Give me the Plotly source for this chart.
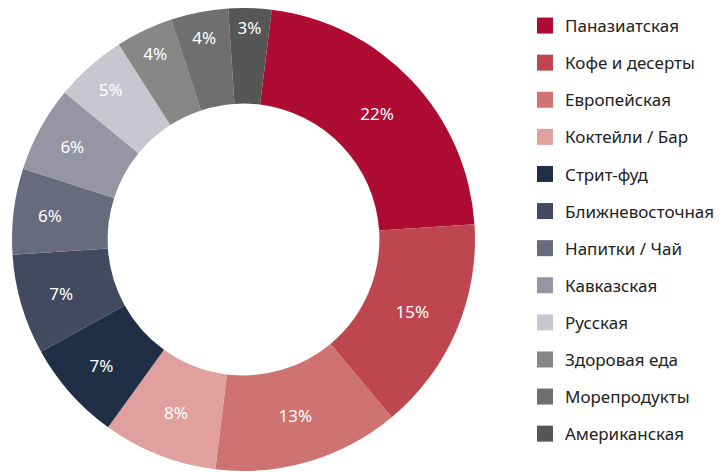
import plotly.graph_objects as go

categories = ["Паназиатская", "Кофе и десерты", "Европейская", "Коктейли / Бар",
              "Стрит-фуд", "Ближневосточная", "Напитки / Чай", "Кавказская",
              "Русская", "Здоровая еда", "Морепродукты", "Американская"]
values = [22, 15, 13, 8, 7, 7, 6, 6, 5, 4, 4, 3]
colors = ["#AE0C32", "#BE4650", "#CE7272", "#E0A09E", "#1F2F46", "#414A5E",
          "#686A7E", "#9595A3", "#C8C7D0", "#878787", "#6F6F6F", "#565656"]

FONT = "Segoe UI, Noto Sans, sans-serif"

fig = go.Figure()
fig.add_trace(go.Pie(
    labels=categories, values=values, sort=False, direction="clockwise",
    rotation=7, hole=0.587,
    marker=dict(colors=colors, line=dict(width=0)),
    texttemplate="%{percent:.0%}", textposition="inside",
    insidetextorientation="horizontal",
    textfont=dict(family=FONT, size=17, color="white"),
    domain=dict(x=[4/724, 467/724], y=[9/472, 472/472]),
    showlegend=False,
))

for c, col in zip(categories, colors):
    fig.add_trace(go.Scatter(
        x=[None], y=[None], mode="markers", name=c, legendgroup=c,
        marker=dict(symbol="square", size=18, color=col),
    ))

fig.update_layout(
    width=724, height=472,
    margin=dict(l=0, r=0, t=0, b=0),
    paper_bgcolor="white", plot_bgcolor="white",
    xaxis=dict(visible=False), yaxis=dict(visible=False),
    legend=dict(x=517/724, xanchor="left", y=1, yanchor="top",
                font=dict(family=FONT, size=17, color="#222222"),
                traceorder="grouped", tracegroupgap=12,
                itemclick=False, itemdoubleclick=False),
)

fig.write_html("out.html")
